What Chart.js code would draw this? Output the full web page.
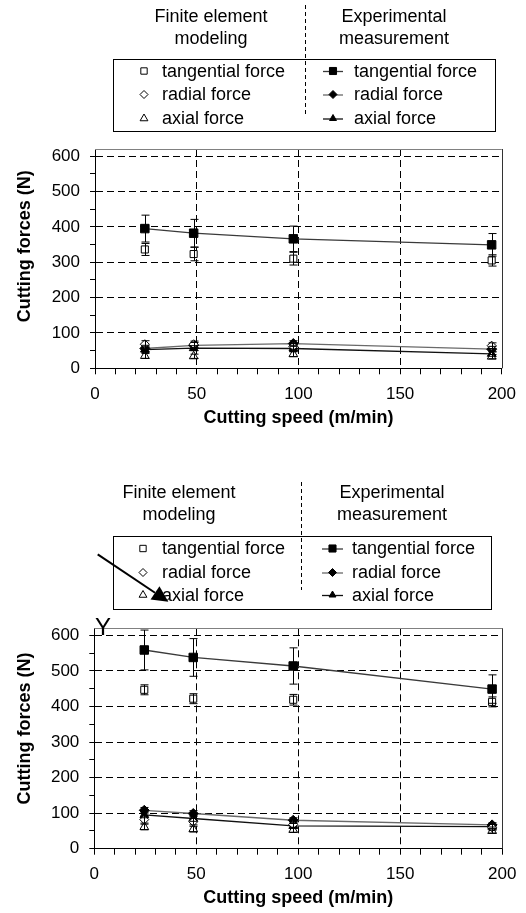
<!DOCTYPE html>
<html lang="en">
<head>
<meta charset="utf-8" />
<script src="https://cdn.jsdelivr.net/npm/chart.js"></script>
<title>Cutting forces</title>
<style>
  body { margin: 0; background: #fff; }
  canvas { display: block; }
</style>
</head>
<body>
<canvas id="topChart" width="526" height="445"></canvas>
<canvas id="bottomChart" width="526" height="468"></canvas>
<script>
// cutting speeds (m/min) and tick labels
var speeds = [24.5, 48.5, 97.5, 195];
var xTickLabels = [0, 50, 100, 150, 200];
var yTickLabels = [0, 100, 200, 300, 400, 500, 600];
var forceNames = ['tangential force', 'radial force', 'axial force'];
var leftHead = ['Finite element', 'modeling'];
var rightHead = ['Experimental', 'measurement'];

// top chart - finite element
var feTangTop = [336, 323, 310, 305];
var feTangTopErr = [17, 19, 18, 16];
var feRadTop = [68, 68, 62, 64];
var feRadTopErr = [10, 9, 8, 8];
var feAxTop = [35, 34, 40, 33];
var feAxTopErr = [7, 6, 7, 6];
// top chart - experimental
var expTangTop = [395, 382, 366, 349];
var expTangTopErr = [38, 39, 36, 32];
var expRadTop = [56, 65, 70, 54];
var expRadTopErr = [9, 8, 8, 8];
var expAxTop = [53, 57, 56, 41];
var expAxTopErr = [8, 7, 9, 7];

// bottom chart - finite element
var feTangBot = [447, 422, 419, 413];
var feTangBotErr = [14, 14, 15, 14];
var feRadBot = [82, 76, 68, 60];
var feRadBotErr = [10, 9, 8, 8];
var feAxBot = [61, 55, 53, 50];
var feAxBotErr = [8, 8, 7, 6];
// bottom chart - experimental
var expTangBot = [559, 538, 514, 449];
var expTangBotErr = [56, 53, 51, 40];
var expRadBot = [108, 99, 80, 67];
var expRadBotErr = [8, 8, 7, 6];
var expAxBot = [95, 85, 64, 62];
var expAxBotErr = [8, 8, 7, 6];

var FONT = "'Liberation Sans', Arial, sans-serif";

function pts(arr) {
  return speeds.map(function (s, i) { return { x: s, y: arr[i] }; });
}

// error bars
var errorBars = {
  id: 'errorBars',
  afterDatasetsDraw: function (chart) {
    var ctx = chart.ctx, yScale = chart.scales.y;
    chart.data.datasets.forEach(function (ds, i) {
      if (!ds.errors) return;
      var meta = chart.getDatasetMeta(i);
      ctx.save();
      ctx.strokeStyle = '#000';
      ctx.lineWidth = 1;
      meta.data.forEach(function (pt, j) {
        var v = ds.data[j].y, e = ds.errors[j];
        var y1 = yScale.getPixelForValue(v + e), y2 = yScale.getPixelForValue(v - e);
        var x = Math.round(pt.x) + 0.5;
        ctx.beginPath();
        ctx.moveTo(x, y1); ctx.lineTo(x, y2);
        ctx.moveTo(x - 4, y1); ctx.lineTo(x + 4, y1);
        ctx.moveTo(x - 4, y2); ctx.lineTo(x + 4, y2);
        ctx.stroke();
      });
      ctx.restore();
    });
  }
};

// top and right frame of the plot area
var frame = {
  id: 'frame',
  beforeDatasetsDraw: function (chart) {
    var a = chart.chartArea, ctx = chart.ctx;
    ctx.save();
    ctx.lineWidth = 1;
    ctx.strokeStyle = '#808080';
    ctx.beginPath();
    ctx.moveTo(a.left, Math.round(a.top) + 0.5);
    ctx.lineTo(a.right, Math.round(a.top) + 0.5);
    ctx.stroke();
    ctx.strokeStyle = '#333';
    ctx.beginPath();
    ctx.moveTo(Math.round(a.right) + 0.5, a.top);
    ctx.lineTo(Math.round(a.right) + 0.5, a.bottom);
    ctx.stroke();
    ctx.restore();
  }
};

// two column legend box
var boxLegend = {
  id: 'boxLegend',
  afterDraw: function (chart, args, o) {
    var ctx = chart.ctx;
    var sets = chart.data.datasets;
    ctx.save();
    ctx.fillStyle = '#000';
    ctx.font = '18px ' + FONT;
    ctx.textBaseline = 'middle';
    ctx.textAlign = 'center';
    ctx.fillText(leftHead[0], o.leftHeadX, o.headY[0]);
    ctx.fillText(leftHead[1], o.leftHeadX, o.headY[1]);
    ctx.fillText(rightHead[0], o.rightHeadX, o.headY[0]);
    ctx.fillText(rightHead[1], o.rightHeadX, o.headY[1]);

    ctx.strokeStyle = '#000';
    ctx.lineWidth = 1;
    ctx.strokeRect(o.box[0] + 0.5, o.box[1] + 0.5, o.box[2] - o.box[0], o.box[3] - o.box[1]);

    ctx.setLineDash([4, 3]);
    ctx.beginPath();
    ctx.moveTo(o.divider[0] + 0.5, o.divider[1]);
    ctx.lineTo(o.divider[0] + 0.5, o.divider[2]);
    ctx.stroke();
    ctx.setLineDash([]);

    ctx.textAlign = 'left';
    for (var k = 0; k < 3; k++) {
      var y = o.rows[k];
      var fe = sets[k], ex = sets[k + 3];
      ctx.fillStyle = fe.pointBackgroundColor;
      ctx.strokeStyle = fe.pointBorderColor;
      ctx.lineWidth = 1;
      Chart.helpers.drawPoint(ctx, { pointStyle: fe.pointStyle, radius: fe.pointRadius - 0.5, borderWidth: 1, rotation: 0 }, o.leftMarkX, y);
      ctx.fillStyle = '#000';
      ctx.fillText(forceNames[k], o.leftTextX, y + 1);

      ctx.strokeStyle = ex.borderColor;
      ctx.lineWidth = 1.3;
      ctx.beginPath();
      ctx.moveTo(o.lineX[0], y + 0.5);
      ctx.lineTo(o.lineX[1], y + 0.5);
      ctx.stroke();
      ctx.fillStyle = '#000';
      ctx.strokeStyle = '#000';
      ctx.lineWidth = 1;
      Chart.helpers.drawPoint(ctx, { pointStyle: ex.pointStyle, radius: ex.pointRadius - 1, borderWidth: 1, rotation: 0 }, (o.lineX[0] + o.lineX[1]) / 2, y);
      ctx.fillText(forceNames[k], o.rightTextX, y + 1);
    }
    ctx.restore();
  }
};

// stray arrow and letter in the second figure
var strayMarks = {
  id: 'strayMarks',
  afterDraw: function (chart, args, o) {
    if (!o.arrow) return;
    var ctx = chart.ctx;
    var a = o.arrow;
    var dx = a[2] - a[0], dy = a[3] - a[1];
    var len = Math.sqrt(dx * dx + dy * dy);
    var ux = dx / len, uy = dy / len;
    var hl = 16, hw = 8;
    ctx.save();
    ctx.strokeStyle = '#000';
    ctx.fillStyle = '#000';
    ctx.lineWidth = 2;
    ctx.beginPath();
    ctx.moveTo(a[0], a[1]);
    ctx.lineTo(a[2] - ux * hl, a[3] - uy * hl);
    ctx.stroke();
    ctx.beginPath();
    ctx.moveTo(a[2], a[3]);
    ctx.lineTo(a[2] - ux * hl - uy * hw, a[3] - uy * hl + ux * hw);
    ctx.lineTo(a[2] - ux * hl + uy * hw, a[3] - uy * hl - ux * hw);
    ctx.closePath();
    ctx.fill();
    ctx.font = '24px ' + FONT;
    ctx.textBaseline = 'alphabetic';
    ctx.textAlign = 'left';
    ctx.fillText('Y', o.letter[0], o.letter[1]);
    ctx.restore();
  }
};

function makeChart(id, v, lay) {
  var datasets = [
    { label: 'FE tangential', data: pts(v[0]), errors: v[1], showLine: false, pointStyle: 'rect', pointRadius: 5, pointBackgroundColor: '#fff', pointBorderColor: '#000', pointBorderWidth: 1 },
    { label: 'FE radial', data: pts(v[2]), errors: v[3], showLine: false, pointStyle: 'rectRot', pointRadius: 4.5, pointBackgroundColor: '#fff', pointBorderColor: '#000', pointBorderWidth: 1 },
    { label: 'FE axial', data: pts(v[4]), errors: v[5], showLine: false, pointStyle: 'triangle', pointRadius: 5, pointBackgroundColor: '#fff', pointBorderColor: '#000', pointBorderWidth: 1 },
    { label: 'Exp tangential', data: pts(v[6]), errors: v[7], borderColor: '#3a3a3a', borderWidth: 1.3, pointStyle: 'rect', pointRadius: 6, pointBackgroundColor: '#000', pointBorderColor: '#000', pointBorderWidth: 1 },
    { label: 'Exp radial', data: pts(v[8]), errors: v[9], borderColor: '#6a6a6a', borderWidth: 1.3, pointStyle: 'rectRot', pointRadius: 5, pointBackgroundColor: '#000', pointBorderColor: '#000', pointBorderWidth: 1 },
    { label: 'Exp axial', data: pts(v[10]), errors: v[11], borderColor: '#111', borderWidth: 1.3, pointStyle: 'triangle', pointRadius: 5, pointBackgroundColor: '#000', pointBorderColor: '#000', pointBorderWidth: 1 }
  ];

  return new Chart(document.getElementById(id).getContext('2d'), {
    type: 'line',
    data: { datasets: datasets },
    plugins: [frame, errorBars, boxLegend, strayMarks],
    options: {
      responsive: false,
      animation: false,
      devicePixelRatio: 1,
      layout: { padding: { top: lay.top, left: 0, right: lay.right, bottom: 0 } },
      elements: { line: { tension: 0, fill: false } },
      scales: {
        x: {
          type: 'linear', min: 0, max: 200,
          afterFit: function (s) { s.height = lay.xh; },
          ticks: {
            stepSize: 10, autoSkip: false, maxRotation: 0, minRotation: 0, padding: lay.xtp,
            color: '#000', font: { size: 17, family: FONT },
            callback: function (val) { return xTickLabels.indexOf(val) >= 0 ? String(val) : ''; }
          },
          grid: {
            color: function (c) { return c.tick && [50, 100, 150].indexOf(c.tick.value) >= 0 ? '#000' : 'rgba(0,0,0,0)'; },
            tickColor: '#000', tickLength: 6, lineWidth: 1
          },
          border: { color: '#000', width: 1, dash: [7, 4] },
          title: {
            display: true, text: 'Cutting speed (m/min)', color: '#000',
            font: { size: 18, weight: 'bold', family: FONT },
            padding: { top: 0, bottom: lay.xtb }
          }
        },
        y: {
          min: 0, max: 620,
          afterFit: function (s) { s.width = lay.yw; },
          ticks: {
            stepSize: 50, autoSkip: false, includeBounds: false, padding: 10,
            color: '#000', font: { size: 17, family: FONT },
            callback: function (val) { return yTickLabels.indexOf(val) >= 0 ? String(val) : ''; }
          },
          grid: {
            color: function (c) { return c.tick && c.tick.value > 0 && yTickLabels.indexOf(c.tick.value) >= 0 ? '#000' : 'rgba(0,0,0,0)'; },
            tickColor: function (c) { return c.tick && c.tick.value % 50 === 0 ? '#000' : 'rgba(0,0,0,0)'; },
            tickLength: 5, lineWidth: 1
          },
          border: { color: '#000', width: 1, dash: [7, 4] },
          title: {
            display: true, text: lay.ytitle, color: '#000',
            font: { size: 18, weight: 'bold', family: FONT },
            padding: { top: 14, bottom: 0 }
          }
        }
      },
      plugins: {
        legend: { display: false },
        tooltip: { enabled: false },
        boxLegend: lay.legend,
        strayMarks: lay.stray
      }
    }
  });
}

makeChart('topChart',
  [feTangTop, feTangTopErr, feRadTop, feRadTopErr, feAxTop, feAxTopErr,
   expTangTop, expTangTopErr, expRadTop, expRadTopErr, expAxTop, expAxTopErr],
  {
    top: 149, right: 21, yw: 95, xh: 76.7, xtp: 10, xtb: 15.7,
    ytitle: '     Cutting forces (N)',
    legend: {
      box: [113, 59, 495, 131], headY: [17, 39], leftHeadX: 211, rightHeadX: 394,
      divider: [305, 5, 116], rows: [71, 94.5, 118.5],
      leftMarkX: 144, leftTextX: 162, lineX: [323, 343], rightTextX: 354
    },
    stray: {}
  });

makeChart('bottomChart',
  [feTangBot, feTangBotErr, feRadBot, feRadBotErr, feAxBot, feAxBotErr,
   expTangBot, expTangBotErr, expRadBot, expRadBotErr, expAxBot, expAxBotErr],
  {
    top: 183.3, right: 23.7, yw: 94.3, xh: 64.3, xtp: 9, xtb: 3.7,
    ytitle: '    Cutting forces (N)',
    legend: {
      box: [113, 91, 491, 164], headY: [48, 70.5], leftHeadX: 179, rightHeadX: 392,
      divider: [301, 37, 145], rows: [103.5, 127.5, 150],
      leftMarkX: 143, leftTextX: 162, lineX: [322, 343], rightTextX: 352
    },
    stray: { arrow: [97.7, 109.3, 168.3, 156.7], letter: [95, 190] }
  });
</script>
</body>
</html>
